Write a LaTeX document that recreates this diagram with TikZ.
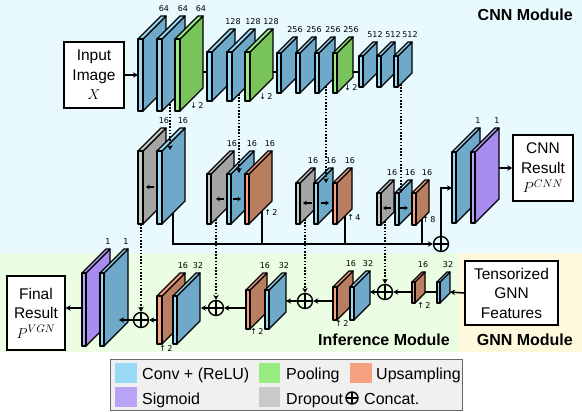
\documentclass[tikz,border=0pt]{standalone}
\usepackage{fontspec}
\setmainfont{Liberation Sans}
\newfontfamily\numfont{DejaVu Sans}
\usetikzlibrary{arrows.meta}

\definecolor{convA}{HTML}{9AD9F5}
\definecolor{convB}{HTML}{6FA9C9}
\definecolor{poolA}{HTML}{98EB7E}
\definecolor{poolB}{HTML}{78C45A}
\definecolor{upA}{HTML}{F6A180}
\definecolor{upB}{HTML}{B97D60}
\definecolor{dropA}{HTML}{CACACA}
\definecolor{dropB}{HTML}{A4A4A4}
\definecolor{sigA}{HTML}{B9A3F6}
\definecolor{sigB}{HTML}{A78BEF}
\definecolor{fondoCNN}{HTML}{E8FAFD}
\definecolor{fondoInf}{HTML}{EBFDE3}
\definecolor{fondoGNN}{HTML}{FFF8DC}
\definecolor{leyenda}{HTML}{F0F0F0}

% capa 3D: nombre, x, y arriba, y abajo, grosor, profundidad, tipo, etiqueta
\newcommand{\capa}[8]{%
  \filldraw[capa, fill=#7B] ({#2+#5},#3) -- ++(#6,-#6) -- ({#2+#5+#6},{#4-#6}) -- ({#2+#5},#4) -- cycle;
  \filldraw[capa, fill=#7A] (#2,#3) -- ++(#6,-#6) -- ++(#5,0) -- ({#2+#5},#3) -- cycle;
  \filldraw[capa, fill=#7A] (#2,#3) rectangle ({#2+#5},#4);
  \node[num] (#1) at ({#2+#5+#6-2},{#3-#6-7}) {#8};
}

\begin{document}
\begin{tikzpicture}[x=1pt, y=-1pt,
    capa/.style={draw, line width=1.3pt, line join=round},
    num/.style={font=\numfont\fontsize{8}{9}\selectfont, inner sep=0pt},
    caja/.style={draw, line width=1.3pt, fill=white, align=center, inner sep=0pt, font=\fontsize{15.5}{19.5}\selectfont},
    titulo/.style={font=\bfseries\fontsize{16}{18}\selectfont, inner sep=0pt, anchor=east},
    flecha/.style={line width=1.5pt, -{Stealth[length=5pt,width=5.5pt]}},
    linea/.style={line width=1.5pt},
    salto/.style={line width=1.5pt, dash pattern=on 1.6pt off 1.6pt, -{Stealth[length=5pt,width=5.5pt]}},
    mini/.style={line width=1.3pt, -{Stealth[length=3.5pt,width=4.5pt]}},
    concat/.style={circle, draw, line width=1.4pt, minimum size=15pt, inner sep=0pt,
      path picture={\draw[line width=1.4pt] (path picture bounding box.north) -- (path picture bounding box.south)
        (path picture bounding box.west) -- (path picture bounding box.east);}},
    ley/.style={font=\fontsize{16}{18}\selectfont, anchor=base west, inner sep=0pt}]

    % Fondos
    \useasboundingbox (0,0) rectangle (582,412);
    \fill[fondoCNN] (0,0) rectangle (582,253);
    \fill[fondoInf] (0,253) rectangle (459,352);
    \fill[fondoGNN] (459,253) rectangle (582,352);

    \node[titulo] (tcnn) at (573,15) {CNN Module};
    \node[titulo] (tinf) at (450,340) {Inference Module};
    \node[titulo] (tgnn) at (573,340) {GNN Module};

    % Cajas
    \node[caja, minimum width=60pt, minimum height=66pt] (entrada) at (94,75) {Input\\Image\\$X$};
    \node[caja, minimum width=60pt, minimum height=66pt] (rescnn) at (543,168) {CNN\\Result\\$P^{CNN}$};
    \node[caja, minimum width=58pt, minimum height=74pt] (final) at (36,313) {Final\\Result\\$P^{VGN}$};
    \node[caja, line width=2pt, minimum width=93pt, minimum height=64pt] (tensor) at (511.5,293) {Tensorized\\GNN\\Features};

    % Capas CNN
    \capa{c1}{138}{39}{111}{5}{23}{conv}{64}
    \capa{c2}{157}{39}{111}{5}{23}{conv}{64}
    \capa{p1}{175}{39}{111}{5}{23}{pool}{64}
    \capa{c3}{207}{52}{101}{5}{23}{conv}{128}
    \capa{c4}{227}{52}{101}{5}{23}{conv}{128}
    \capa{p2}{245}{52}{101}{5}{23}{pool}{128}
    \capa{c5}{277}{53}{93}{4}{16}{conv}{256}
    \capa{c6}{296}{53}{93}{4}{16}{conv}{256}
    \capa{c7}{315}{53}{93}{4}{16}{conv}{256}
    \capa{p3}{333}{53}{93}{4}{16}{pool}{256}
    \capa{c8}{359}{56}{87}{4}{14}{conv}{512}
    \capa{c9}{377}{56}{87}{4}{14}{conv}{512}
    \capa{c10}{394}{56}{87}{4}{14}{conv}{512}

    \node[num] (r1) at (197,106) {↓\,2};
    \node[num] (r2) at (266,97) {↓\,2};
    \node[num] (r3) at (351,88) {↓\,2};

    % Capas intermedias
    \capa{d1}{138}{151}{224}{5}{23}{drop}{16}
    \capa{m1}{157}{151}{224}{5}{23}{conv}{16}
    \capa{d2}{207}{174}{224}{4}{23}{drop}{16}
    \capa{m2}{227}{174}{224}{4}{23}{conv}{16}
    \capa{u2}{245}{174}{224}{4}{23}{up}{16}
    \capa{d3}{296}{183}{224}{4}{15}{drop}{16}
    \capa{m3}{314}{183}{224}{4}{15}{conv}{16}
    \capa{u3}{333}{183}{224}{4}{15}{up}{16}
    \capa{d4}{377}{193}{225}{4}{13}{drop}{16}
    \capa{m4}{395}{193}{225}{4}{13}{conv}{16}
    \capa{u4}{412}{193}{225}{4}{13}{up}{16}
    \capa{m5}{452}{152}{223}{4}{24}{conv}{1}
    \capa{s1}{471}{152}{223}{4}{24}{sig}{1}

    \node[num] (r4) at (271,213) {↑\,2};
    \node[num] (r5) at (354,218) {↑\,4};
    \node[num] (r6) at (429,220) {↑\,8};

    \draw[mini] (154,187) -- (146,187);
    \draw[mini] (224,199) -- (216,199);
    \draw[mini] (233,199) -- (241,199);
    \draw[mini] (312,203) -- (303,203);
    \draw[mini] (321,203) -- (329,203);
    \draw[mini] (391,208) -- (383,208);
    \draw[mini] (400,208) -- (408,208);

    % Capas de inferencia
    \capa{s2}{82}{273}{346}{4}{24}{sig}{1}
    \capa{b1}{100}{273}{346}{4}{24}{conv}{1}
    \capa{u5}{157}{296}{344}{5}{23}{up}{16}
    \capa{b2}{173}{296}{344}{4}{23}{conv}{32}
    \capa{u6}{246}{290}{329}{4}{17}{up}{16}
    \capa{b3}{265}{290}{329}{4}{17}{conv}{32}
    \capa{u7}{333}{287}{320}{4}{16}{up}{16}
    \capa{b4}{350}{287}{320}{4}{16}{conv}{32}
    \capa{u8}{412}{282}{303}{3}{10}{up}{16}
    \capa{b5}{437}{282}{303}{3}{10}{conv}{32}

    \node[num] (r7) at (166,349) {↑\,2};
    \node[num] (r8) at (257,332) {↑\,2};
    \node[num] (r9) at (342,324) {↑\,2};
    \node[num] (r10) at (424,306) {↑\,2};

    % Concatenaciones
    \node[concat] (suma) at (441,244) {};
    \node[concat] (o1) at (141,320) {};
    \node[concat] (o2) at (216,308) {};
    \node[concat] (o3) at (305,301) {};
    \node[concat] (o4) at (385,292) {};

    % Puntos de conexion
    \coordinate (c1w) at (138,75);
    \coordinate (p1e) at (203,72);
    \coordinate (c3w) at (207,72);
    \coordinate (p2e) at (273,72);
    \coordinate (c5w) at (277,72);
    \coordinate (p3e) at (353,72);
    \coordinate (c8w) at (359,72);
    \coordinate (c2b) at (170,104);
    \coordinate (m1t) at (170,150);
    \coordinate (c4b) at (239,94);
    \coordinate (m2t) at (239,173);
    \coordinate (c7b) at (326,86);
    \coordinate (m3t) at (326,183);
    \coordinate (c10b) at (401,84);
    \coordinate (m4t) at (401,193);
    \coordinate (m1b) at (173,213);
    \coordinate (u2b) at (262,211);
    \coordinate (u3b) at (345,216);
    \coordinate (u4b) at (422,219);
    \coordinate (m5w) at (452,188);
    \coordinate (s1e) at (499,168);
    \coordinate (d1b) at (141,224);
    \coordinate (d2b) at (216,219);
    \coordinate (d3b) at (305,219);
    \coordinate (d4b) at (385,221);
    \coordinate (s2w) at (82,308);
    \coordinate (b1e) at (119,320);
    \coordinate (u5w) at (157,320);
    \coordinate (b2e) at (201,308);
    \coordinate (u6w) at (246,308);
    \coordinate (b3e) at (286,301);
    \coordinate (u7w) at (333,301);
    \coordinate (b4e) at (370,292);
    \coordinate (u8w) at (412,292);
    \coordinate (u8e) at (425,292);
    \coordinate (b5w) at (437,292);
    \coordinate (b5e) at (450,292);

    % Conexiones
    \draw[flecha] (entrada.east) -- (c1w);
    \draw[linea] (p1e) -- (c3w);
    \draw[linea] (p2e) -- (c5w);
    \draw[linea] (p3e) -- (c8w);
    \draw[salto] (c2b) -- (m1t);
    \draw[salto] (c4b) -- (m2t);
    \draw[salto] (c7b) -- (m3t);
    \draw[salto] (c10b) -- (m4t);
    \draw[flecha] (m1b) |- (suma.west);
    \draw[linea] (u2b) -- (u2b |- suma);
    \draw[linea] (u3b) -- (u3b |- suma);
    \draw[linea] (u4b) -- (u4b |- suma);
    \draw[flecha] (suma.north) |- (m5w);
    \draw[flecha] (s1e) -- (s1e -| rescnn.west);
    \draw[salto] (d1b) -- (o1.north);
    \draw[salto] (d2b) -- (o2.north);
    \draw[salto] (d3b) -- (o3.north);
    \draw[salto] (d4b) -- (o4.north);
    \draw[flecha] (tensor.west) -- (b5e);
    \draw[linea] (u8e) -- (b5w);
    \draw[flecha] (u8w) -- (o4.east);
    \draw[flecha] (o4.west) -- (b4e);
    \draw[flecha] (u7w) -- (o3.east);
    \draw[flecha] (o3.west) -- (b3e);
    \draw[flecha] (u6w) -- (o2.east);
    \draw[flecha] (o2.west) -- (b2e);
    \draw[flecha] (u5w) -- (o1.east);
    \draw[flecha] (o1.west) -- (b1e);
    \draw[flecha] (s2w) -- (s2w -| final.east);

    % Leyenda
    \draw[draw=black!60, fill=leyenda, line width=1pt] (110,359) rectangle (462,410);
    \fill[convA] (115,363) rectangle (137,383);
    \fill[poolA] (259,363) rectangle (280,383);
    \fill[upA] (350,363) rectangle (372,383);
    \fill[sigA] (115,387) rectangle (137,407);
    \fill[dropA] (259,387) rectangle (280,407);
    \node[ley] (l1) at (142,379) {Conv + (ReLU)};
    \node[ley] (l2) at (286,379) {Pooling};
    \node[ley] (l3) at (376,379) {Upsampling};
    \node[ley] (l4) at (142,404) {Sigmoid};
    \node[ley] (l5) at (286,404) {Dropout};
    \node[concat, minimum size=12pt] (l6) at (352,398) {};
    \node[ley] (l7) at (364,404) {Concat.};

\end{tikzpicture}
\end{document}
